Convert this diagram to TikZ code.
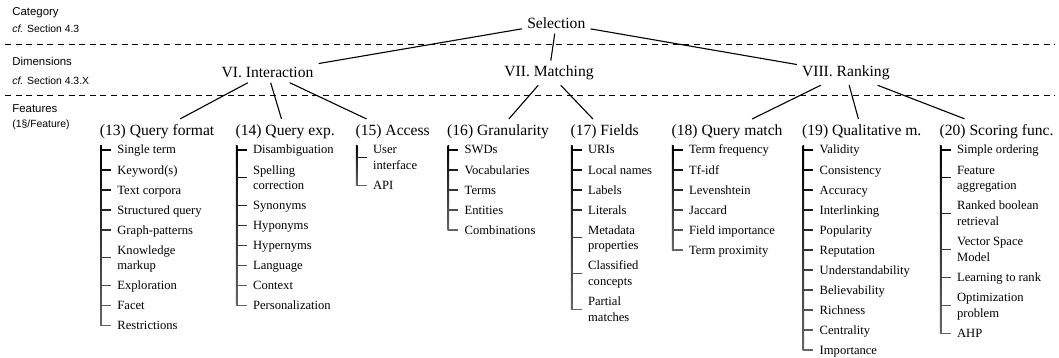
\documentclass[tikz,border=0pt]{standalone}
\usepackage{fontspec}
\setmainfont{Liberation Serif}
\setsansfont{Liberation Sans}

% two-line leaf text, baseline on the first line
\newcommand\twoline[2]{\begin{tabular}[t]{@{}l@{}}#1\\#2\end{tabular}}

% a feature list: #1 name prefix, #2 spine x, #3 spine end y, #4 entries centre/text/twoline-flag
\newcommand\featlist[4]{%
  \shade[top color=black,bottom color=black!60] (#2-0.8,145) rectangle (#2+0.8,#3);
  \foreach \c/\t/\two [count=\k] in {#4} {
    \pgfmathsetmacro\ty{\c+7.9*\two}
    \pgfmathsetmacro\mixval{100-40*(\ty-145)/(#3-145)}
    \node[leaf] (#1-\k) at (#2+10,\c+4) {\t};
    \draw[tick, draw=black!\mixval] (#2,\ty) -- (#1-\k.west |- 0,\ty);
  }%
}

\begin{document}
\begin{tikzpicture}[x=0.5pt,y=-0.5pt,
  toplevel/.style={font=\fontsize{7.8}{9}\selectfont, inner sep=2.4pt, anchor=base},
  featnode/.style={font=\fontsize{7.8}{9}\selectfont, inner sep=2.4pt, anchor=base west},
  leaf/.style={font=\fontsize{6.3}{7.9}\selectfont, inner xsep=3pt, inner ysep=0pt, anchor=base west},
  rowlabel/.style={font=\sffamily\fontsize{5.7}{6.5}\selectfont, inner sep=0pt, anchor=base west},
  rowref/.style={font=\sffamily\fontsize{5.2}{6}\selectfont, inner sep=0pt, anchor=base west},
  treeline/.style={line width=0.55pt},
  tick/.style={line width=0.55pt},
  divider/.style={line width=0.45pt, dash pattern=on 3pt off 2.3pt}]

\useasboundingbox (0,0) rectangle (1059,358);

% row captions
\node[rowlabel] (catlbl) at (12,15.7) {Category};
\node[rowref]   (catref) at (12,32.7) {\textit{cf.} Section 4.3};
\node[rowlabel] (dimlbl) at (12,65.7) {Dimensions};
\node[rowref]   (dimref) at (12,84) {\textit{cf.} Section 4.3.X};
\node[rowlabel] (featlbl) at (12,112.7) {Features};
\node[rowref]   (featref) at (12,127) {(1§/Feature)};

% row separators
\draw[divider] (5,44.3) -- (1055,44.3);
\draw[divider] (5,95) -- (1055,95);

% category and dimensions
\node[toplevel] (sel)  at (556.3,28.3) {Selection};
\node[toplevel] (vi)   at (267.5,77.3) {VI. Interaction};
\node[toplevel] (vii)  at (549,76.7)   {VII. Matching};
\node[toplevel] (viii) at (845.8,76.7) {VIII. Ranking};

% features
\node[featnode] (f13) at (94.7,135)  {(13) Query format};
\node[featnode] (f14) at (230.4,135) {(14) Query exp.};
\node[featnode] (f15) at (350.4,135) {(15) Access};
\node[featnode] (f16) at (442,135)   {(16) Granularity};
\node[featnode] (f17) at (565.4,135) {(17) Fields};
\node[featnode] (f18) at (666.4,135) {(18) Query match};
\node[featnode] (f19) at (797,135)   {(19) Qualitative m.};
\node[featnode] (f20) at (934.4,135) {(20) Scoring func.};

% tree connectors
\draw[treeline] (sel) -- (vi);
\draw[treeline] (sel) -- (vii);
\draw[treeline] (sel) -- (viii);
\draw[treeline] (vi) -- (f13);
\draw[treeline] (vi) -- (f14);
\draw[treeline] (vi) -- (f15);
\draw[treeline] (vii) -- (f16);
\draw[treeline] (vii) -- (f17);
\draw[treeline] (viii) -- (f18);
\draw[treeline] (viii) -- (f19);
\draw[treeline] (viii) -- (f20);

% feature values
\featlist{qf}{101}{325.8}{150/Single term/0, 170/Keyword(s)/0, 190/Text corpora/0,
  210/Structured query/0, 230/Graph-patterns/0, 250/{\twoline{Knowledge}{markup}}/1,
  285.8/Exploration/0, 305.8/Facet/0, 325.8/Restrictions/0}
\featlist{qe}{236.7}{305.8}{150/Disambiguation/0, 170/{\twoline{Spelling}{correction}}/1,
  205.8/Synonyms/0, 225.8/Hyponyms/0, 245.8/Hypernyms/0, 265.8/Language/0,
  285.8/Context/0, 305.8/Personalization/0}
\featlist{ac}{356.7}{185.8}{150/{\twoline{User}{interface}}/1, 185.8/API/0}
\featlist{gr}{448.3}{230}{150/SWDs/0, 170/Vocabularies/0, 190/Terms/0, 210/Entities/0,
  230/Combinations/0}
\featlist{fi}{571.7}{309.5}{150/URIs/0, 170/Local names/0, 190/Labels/0, 210/Literals/0,
  230/{\twoline{Metadata}{properties}}/1, 265.8/{\twoline{Classified}{concepts}}/1,
  301.6/{\twoline{Partial}{matches}}/1}
\featlist{qm}{672.7}{250}{150/Term frequency/0, 170/Tf-idf/0, 190/Levenshtein/0,
  210/Jaccard/0, 230/Field importance/0, 250/Term proximity/0}
\featlist{ql}{803.3}{350}{150/Validity/0, 170/Consistency/0, 190/Accuracy/0,
  210/Interlinking/0, 230/Popularity/0, 250/Reputation/0, 270/Understandability/0,
  290/Believability/0, 310/Richness/0, 330/Centrality/0, 350/Importance/0}
\featlist{sf}{940.7}{333.2}{150/Simple ordering/0, 170/{\twoline{Feature}{aggregation}}/1,
  205.8/{\twoline{Ranked boolean}{retrieval}}/1, 241.6/{\twoline{Vector Space}{Model}}/1,
  277.4/Learning to rank/0, 297.4/{\twoline{Optimization}{problem}}/1, 333.2/AHP/0}

\end{tikzpicture}
\end{document}
